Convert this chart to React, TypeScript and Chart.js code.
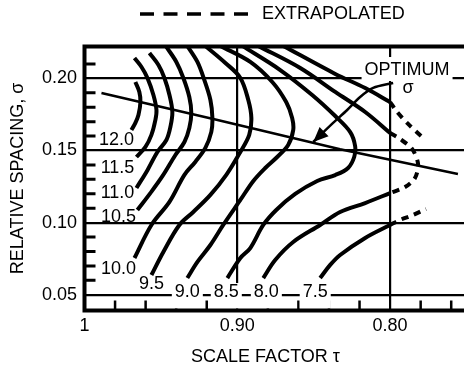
import { useEffect, useRef } from "react";
import { Chart, registerables } from "chart.js";

Chart.register(...registerables);

const FONT = "'Liberation Sans', Arial, Helvetica, sans-serif";

// Axis ranges and ticks
const tauMin = 0.75;
const tauMax = 1;
const sigmaMin = 0.0391;
const sigmaMax = 0.2221;
const xLabelTicks = [1, 0.9, 0.8];
const yLabelTicks = [0.05, 0.1, 0.15, 0.2];
const xMinorTicks = [0.98, 0.96, 0.94, 0.92, 0.88, 0.86, 0.84, 0.82, 0.78, 0.76];
const yMinorTicks = [0.06, 0.07, 0.08, 0.09, 0.11, 0.12, 0.13, 0.14, 0.16, 0.17, 0.18, 0.19, 0.21];

// Contours of constant directivity: [tau, sigma]
const contour12_0 = [[0.9667, 0.1975], [0.9641, 0.1906], [0.9634, 0.1836], [0.9647, 0.1746], [0.9667, 0.1691], [0.9693, 0.1642]];
const contour11_5 = [[0.9673, 0.2141], [0.9627, 0.2079], [0.9588, 0.2003], [0.9549, 0.1885], [0.9529, 0.1781], [0.9536, 0.1712], [0.9562, 0.1608], [0.9601, 0.1525], [0.966, 0.1455]];
const contour11_0 = [[0.9575, 0.2176], [0.9516, 0.2093], [0.9477, 0.2003], [0.9444, 0.1885], [0.9425, 0.1767], [0.9438, 0.1663], [0.9464, 0.1573], [0.9523, 0.149], [0.9588, 0.1364], [0.966, 0.124]];
const contour10_5 = [[0.9464, 0.2218], [0.9399, 0.2114], [0.9353, 0.2003], [0.9314, 0.1871], [0.9301, 0.176], [0.9314, 0.1656], [0.9346, 0.1559], [0.9405, 0.1469], [0.949, 0.1322], [0.9569, 0.1205], [0.9654, 0.1088]];
const contour10_0 = [[0.9327, 0.2225], [0.9261, 0.2114], [0.9216, 0.1989], [0.9176, 0.185], [0.9163, 0.1726], [0.917, 0.1629], [0.9209, 0.1518], [0.9275, 0.1421], [0.9346, 0.1331], [0.9444, 0.1144], [0.9562, 0.0984], [0.9673, 0.0755]];
const contour9_5 = [[0.9209, 0.2225], [0.9078, 0.2107], [0.898, 0.2003], [0.8928, 0.185], [0.8908, 0.1726], [0.8922, 0.1608], [0.898, 0.149], [0.9072, 0.1331], [0.9176, 0.1192], [0.9288, 0.1074], [0.9379, 0.0984], [0.9484, 0.0797], [0.9562, 0.0637]];
const contour9_0 = [[0.9111, 0.2225], [0.8915, 0.2114], [0.8771, 0.1975], [0.868, 0.1836], [0.8641, 0.1726], [0.8634, 0.1642], [0.8667, 0.1538], [0.8739, 0.1455], [0.8817, 0.1379], [0.8895, 0.1289], [0.898, 0.1157], [0.9092, 0.0984], [0.9176, 0.0845], [0.9261, 0.0728], [0.9327, 0.0616]];
const contour8_5 = [[0.8967, 0.2225], [0.8719, 0.2058], [0.851, 0.1885], [0.8359, 0.1739], [0.8261, 0.1628], [0.8229, 0.1531], [0.8235, 0.1455], [0.8275, 0.1379], [0.8359, 0.133], [0.8477, 0.1289], [0.8621, 0.1199], [0.8745, 0.1088], [0.883, 0.0984], [0.8915, 0.0824], [0.898, 0.0755], [0.9065, 0.0616]];
const contour8_0Upper = [[0.8863, 0.2225], [0.8588, 0.2072], [0.8359, 0.1906], [0.8163, 0.1767], [0.8, 0.1621]];
const contour8_0Lower = [[0.8, 0.1205], [0.8163, 0.1136], [0.8327, 0.1074], [0.8458, 0.0984], [0.8634, 0.0866], [0.8752, 0.0741], [0.883, 0.0616]];
const contour7_5Upper = [[0.8699, 0.2225], [0.8359, 0.2031], [0.8163, 0.1933], [0.8, 0.1836]];
const contour7_5Lower = [[0.8, 0.0984], [0.8163, 0.0894], [0.8327, 0.0776], [0.8392, 0.0707], [0.8458, 0.0616]];

// Extrapolated (dashed) parts
const contour8_0Extrapolated = [[0.8, 0.1621], [0.7935, 0.158], [0.7856, 0.1511], [0.7817, 0.1407], [0.7837, 0.131], [0.7902, 0.1247], [0.8, 0.1205]];
const contour7_5ExtrapolatedUpper = [[0.8, 0.1836], [0.7954, 0.1767], [0.7882, 0.1684], [0.7791, 0.1594]];
const contour7_5ExtrapolatedLower = [[0.8, 0.0984], [0.7935, 0.1019], [0.785, 0.1053], [0.7765, 0.1095]];

// Optimum sigma line and its pointer
const optimumSigma = [[0.9889, 0.1899], [0.915, 0.1717], [0.8327, 0.1509], [0.7556, 0.1337]];
const optimumArrow = [[0.798, 0.1968], [0.8111, 0.1934], [0.8196, 0.1871], [0.8281, 0.1781], [0.8373, 0.1691], [0.8503, 0.1559]];

// Contour labels
const contourLabelText = ["12.0", "11.5", "11.0", "10.5", "10.0", "9.5", "9.0", "8.5", "8.0", "7.5"];
const contourLabelTau = [0.9791, 0.9784, 0.9784, 0.9778, 0.9778, 0.9562, 0.9327, 0.9072, 0.881, 0.849];
const contourLabelSigma = [0.1573, 0.1379, 0.1206, 0.1039, 0.0679, 0.0575, 0.0519, 0.0519, 0.0519, 0.0519];
const contourLabelBoxed = [false, false, false, false, false, false, true, true, true, true];

const optimumLabel = { text: "OPTIMUM", tau: 0.7889, sigma: 0.2058 };
const sigmaLabel = { text: "σ", tau: 0.7882, sigma: 0.1934 };
const legendText = "EXTRAPOLATED";

const solidContours = [contour12_0, contour11_5, contour11_0, contour10_5, contour10_0, contour9_5, contour9_0, contour8_5, contour8_0Upper, contour8_0Lower, contour7_5Upper, contour7_5Lower];
const dashedContours = [contour8_0Extrapolated, contour7_5ExtrapolatedUpper, contour7_5ExtrapolatedLower];

const toXY = (pts: number[][]) => pts.map(([t, s]) => ({ x: t, y: s }));

const decorPlugin = {
  id: "decor",
  afterDatasetsDraw(chart: any) {
    const { ctx, chartArea: a, scales } = chart;
    const px = (t: number) => scales.x.getPixelForValue(t);
    const py = (s: number) => scales.y.getPixelForValue(s);
    ctx.save();
    ctx.strokeStyle = "#000";
    ctx.fillStyle = "#000";

    // arrow head
    const n = optimumArrow.length;
    const x1 = px(optimumArrow[n - 2][0]);
    const y1 = py(optimumArrow[n - 2][1]);
    const x2 = px(optimumArrow[n - 1][0]);
    const y2 = py(optimumArrow[n - 1][1]);
    const ang = Math.atan2(y2 - y1, x2 - x1);
    const L = 15;
    const W = 6.5;
    ctx.beginPath();
    ctx.moveTo(x2, y2);
    ctx.lineTo(x2 - L * Math.cos(ang) + W * Math.sin(ang), y2 - L * Math.sin(ang) - W * Math.cos(ang));
    ctx.lineTo(x2 - L * Math.cos(ang) - W * Math.sin(ang), y2 - L * Math.sin(ang) + W * Math.cos(ang));
    ctx.closePath();
    ctx.fill();

    // minor ticks
    ctx.lineWidth = 2.5;
    ctx.beginPath();
    for (const t of xMinorTicks) {
      const x = px(t);
      ctx.moveTo(x, a.bottom);
      ctx.lineTo(x, a.bottom - 10);
    }
    ctx.stroke();
    ctx.lineWidth = 3;
    ctx.beginPath();
    for (const s of yMinorTicks) {
      const y = py(s);
      ctx.moveTo(a.left, y);
      ctx.lineTo(a.left + 11, y);
    }
    ctx.stroke();

    // contour labels
    ctx.font = `18px ${FONT}`;
    ctx.textBaseline = "middle";
    ctx.textAlign = "center";
    contourLabelText.forEach((txt, i) => {
      const x = px(contourLabelTau[i]);
      const y = py(contourLabelSigma[i]);
      const w = ctx.measureText(txt).width;
      if (contourLabelBoxed[i]) {
        ctx.fillStyle = "#fff";
        ctx.fillRect(x - w / 2 - 3, y - 9, w + 6, a.bottom - 2 - (y - 9));
      }
      ctx.fillStyle = "#000";
      ctx.fillText(txt, x, y);
    });

    // OPTIMUM sigma
    {
      const x = px(optimumLabel.tau);
      const y = py(optimumLabel.sigma);
      const w = ctx.measureText(optimumLabel.text).width;
      ctx.fillStyle = "#fff";
      ctx.fillRect(x - w / 2 - 3, y - 13, w + 6, 24);
      ctx.fillStyle = "#000";
      ctx.fillText(optimumLabel.text, x, y);
      ctx.fillText(sigmaLabel.text, px(sigmaLabel.tau), py(sigmaLabel.sigma));
    }

    // frame
    ctx.lineWidth = 4;
    ctx.strokeRect(a.left, a.top, a.right - a.left, a.bottom - a.top);

    // legend (extrapolated)
    ctx.lineWidth = 3.5;
    ctx.setLineDash([14, 9.5]);
    ctx.beginPath();
    ctx.moveTo(140, 14);
    ctx.lineTo(253, 14);
    ctx.stroke();
    ctx.setLineDash([]);
    ctx.textAlign = "left";
    ctx.fillText(legendText, 262, 14);
    ctx.restore();
  },
};

export default function App() {
  const ref = useRef<HTMLCanvasElement>(null);
  useEffect(() => {
    const canvas = ref.current;
    if (!canvas) return;
    const solid = (pts: number[][]) => ({
      data: toXY(pts),
      borderColor: "#000",
      borderWidth: 4,
      pointRadius: 0,
      tension: 0.35,
      fill: false,
    });
    const dashed = (pts: number[][]) => ({ ...solid(pts), borderDash: [7, 6], tension: 0.3 });
    const datasets: any[] = [
      ...solidContours.map(solid),
      ...dashedContours.map(dashed),
      { data: toXY(optimumSigma), borderColor: "#000", borderWidth: 2.5, pointRadius: 0, tension: 0, fill: false },
      { data: toXY(optimumArrow), borderColor: "#000", borderWidth: 2.5, pointRadius: 0, tension: 0.3, fill: false },
    ];
    const tickFont = { family: FONT, size: 18 };
    const chart = new Chart(canvas, {
      type: "line",
      data: { datasets },
      options: {
        animation: false,
        responsive: false,
        devicePixelRatio: 1,
        layout: { padding: { top: 46.5, right: 3.5, left: 0, bottom: 0 } },
        plugins: { legend: { display: false }, tooltip: { enabled: false } },
        scales: {
          x: {
            type: "linear",
            reverse: true,
            min: tauMin,
            max: tauMax,
            afterBuildTicks: (s: any) => {
              s.ticks = xLabelTicks.map((v) => ({ value: v }));
            },
            afterFit: (s: any) => {
              s.height = 58.5;
            },
            grid: { color: "#000", lineWidth: 2.2, drawTicks: false },
            border: { display: false },
            ticks: {
              padding: 5,
              autoSkip: false,
              maxRotation: 0,
              color: "#000",
              font: tickFont,
              callback: (v: any) => (Number(v) === 1 ? "1" : Number(v).toFixed(2)),
            },
            title: {
              display: true,
              text: "SCALE FACTOR τ\u00a0\u00a0\u00a0\u00a0",
              color: "#000",
              font: tickFont,
              padding: { top: 0, bottom: 1 },
            },
          },
          y: {
            type: "linear",
            min: sigmaMin,
            max: sigmaMax,
            afterBuildTicks: (s: any) => {
              s.ticks = yLabelTicks.map((v) => ({ value: v }));
            },
            afterFit: (s: any) => {
              s.width = 84.5;
            },
            grid: { color: "#000", lineWidth: 2.2, drawTicks: false },
            border: { display: false },
            ticks: {
              padding: 7.5,
              color: "#000",
              font: tickFont,
              callback: (v: any) => Number(v).toFixed(2),
            },
            title: {
              display: true,
              text: "RELATIVE SPACING, σ",
              color: "#000",
              font: tickFont,
              padding: { top: 7, bottom: 0 },
            },
          },
        },
      },
      plugins: [decorPlugin],
    } as any);
    return () => chart.destroy();
  }, []);
  return (
    <div
      style={{
        position: "fixed",
        left: 0,
        top: 0,
        width: 464,
        height: 369,
        overflow: "hidden",
        background: "#fff",
      }}
    >
      <canvas ref={ref} width={470} height={369} style={{ display: "block", width: 470, height: 369 }} />
    </div>
  );
}
